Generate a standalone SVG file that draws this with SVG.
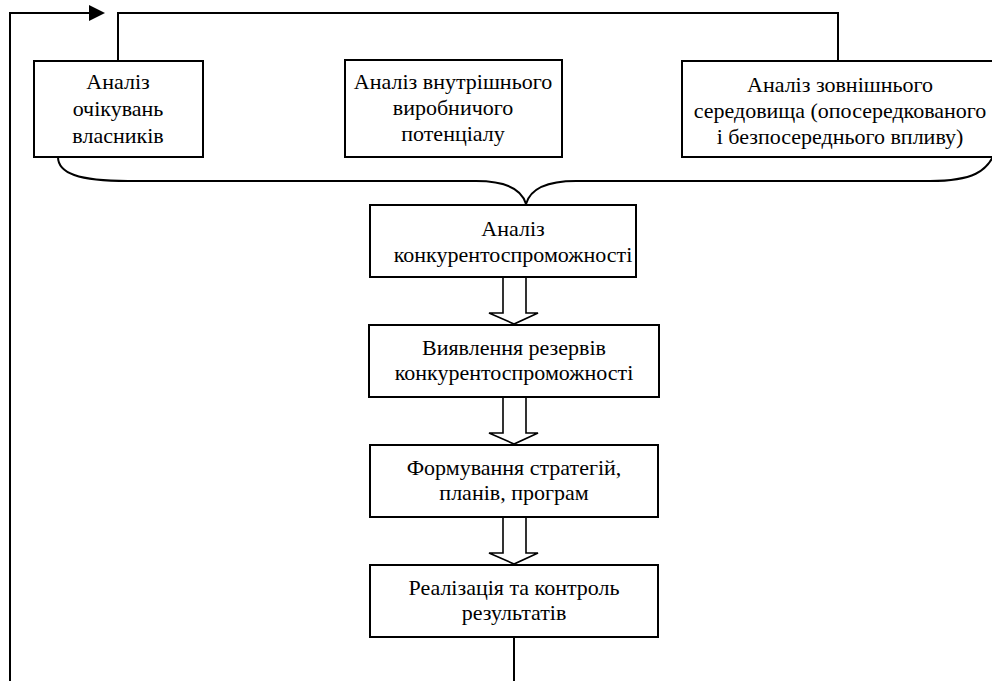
<svg xmlns="http://www.w3.org/2000/svg" width="992" height="681" viewBox="0 0 992 681">
<style>
.box{fill:#fff;stroke:#000;stroke-width:2}
.ln{fill:none;stroke:#000;stroke-width:2}
.blk{fill:#fff;stroke:#000;stroke-width:1.6;stroke-linejoin:miter}
.t{font-family:'Liberation Serif','Times New Roman',serif;font-size:22px;fill:#000;text-anchor:middle}
</style>
<rect width="992" height="681" fill="#fff"/>
<g id="connectors">
<polyline class="ln" points="10,681 10,13 92,13"/>
<polygon points="89,5 105,13 89,21" fill="#000"/>
<polyline class="ln" points="118,61 118,13 838,13 838,61"/>
<path class="ln" d="M58,157 C58,173 78,181 128,181 L476,181 C506,181 522,190 526,204 C530,190 546,181 576,181 L930,181 C972,181 988,172 996,150"/>
<polygon class="blk" points="503,277 503,313 489,313 514,324 538,313 526,313 526,277"/>
<polygon class="blk" points="503,397 503,433 489,433 514,444 538,433 526,433 526,397"/>
<polygon class="blk" points="503,517 503,553 489,553 514,564 538,553 526,553 526,517"/>
<line class="ln" x1="514" y1="637" x2="514" y2="681"/>
</g>
<g id="n1" class="t">
<rect class="box" x="34" y="61" width="169" height="96"/>
<text x="118" y="89">Аналіз</text>
<text x="118" y="116">очікувань</text>
<text x="118" y="143">власників</text>
</g>
<g id="n2" class="t">
<rect class="box" x="345" y="60" width="217" height="97"/>
<text x="453" y="89">Аналіз внутрішнього</text>
<text x="453" y="115">виробничого</text>
<text x="453" y="141">потенціалу</text>
</g>
<g id="n3" class="t">
<rect class="box" x="682" y="61" width="320" height="96"/>
<text x="840" y="92">Аналіз зовнішнього</text>
<text x="840" y="118">середовища (опосередкованого</text>
<text x="840" y="144">і безпосереднього впливу)</text>
</g>
<g id="n4" class="t">
<rect class="box" x="370" y="205" width="266" height="72"/>
<text x="513" y="236">Аналіз</text>
<text x="513" y="262">конкурентоспроможності</text>
</g>
<g id="n5" class="t">
<rect class="box" x="369" y="325" width="290" height="72"/>
<text x="514" y="355">Виявлення резервів</text>
<text x="514" y="380">конкурентоспроможності</text>
</g>
<g id="n6" class="t">
<rect class="box" x="370" y="445" width="288" height="72"/>
<text x="514" y="475">Формування стратегій,</text>
<text x="514" y="500">планів, програм</text>
</g>
<g id="n7" class="t">
<rect class="box" x="370" y="565" width="288" height="72"/>
<text x="514" y="595">Реалізація та контроль</text>
<text x="514" y="620">результатів</text>
</g>
</svg>
